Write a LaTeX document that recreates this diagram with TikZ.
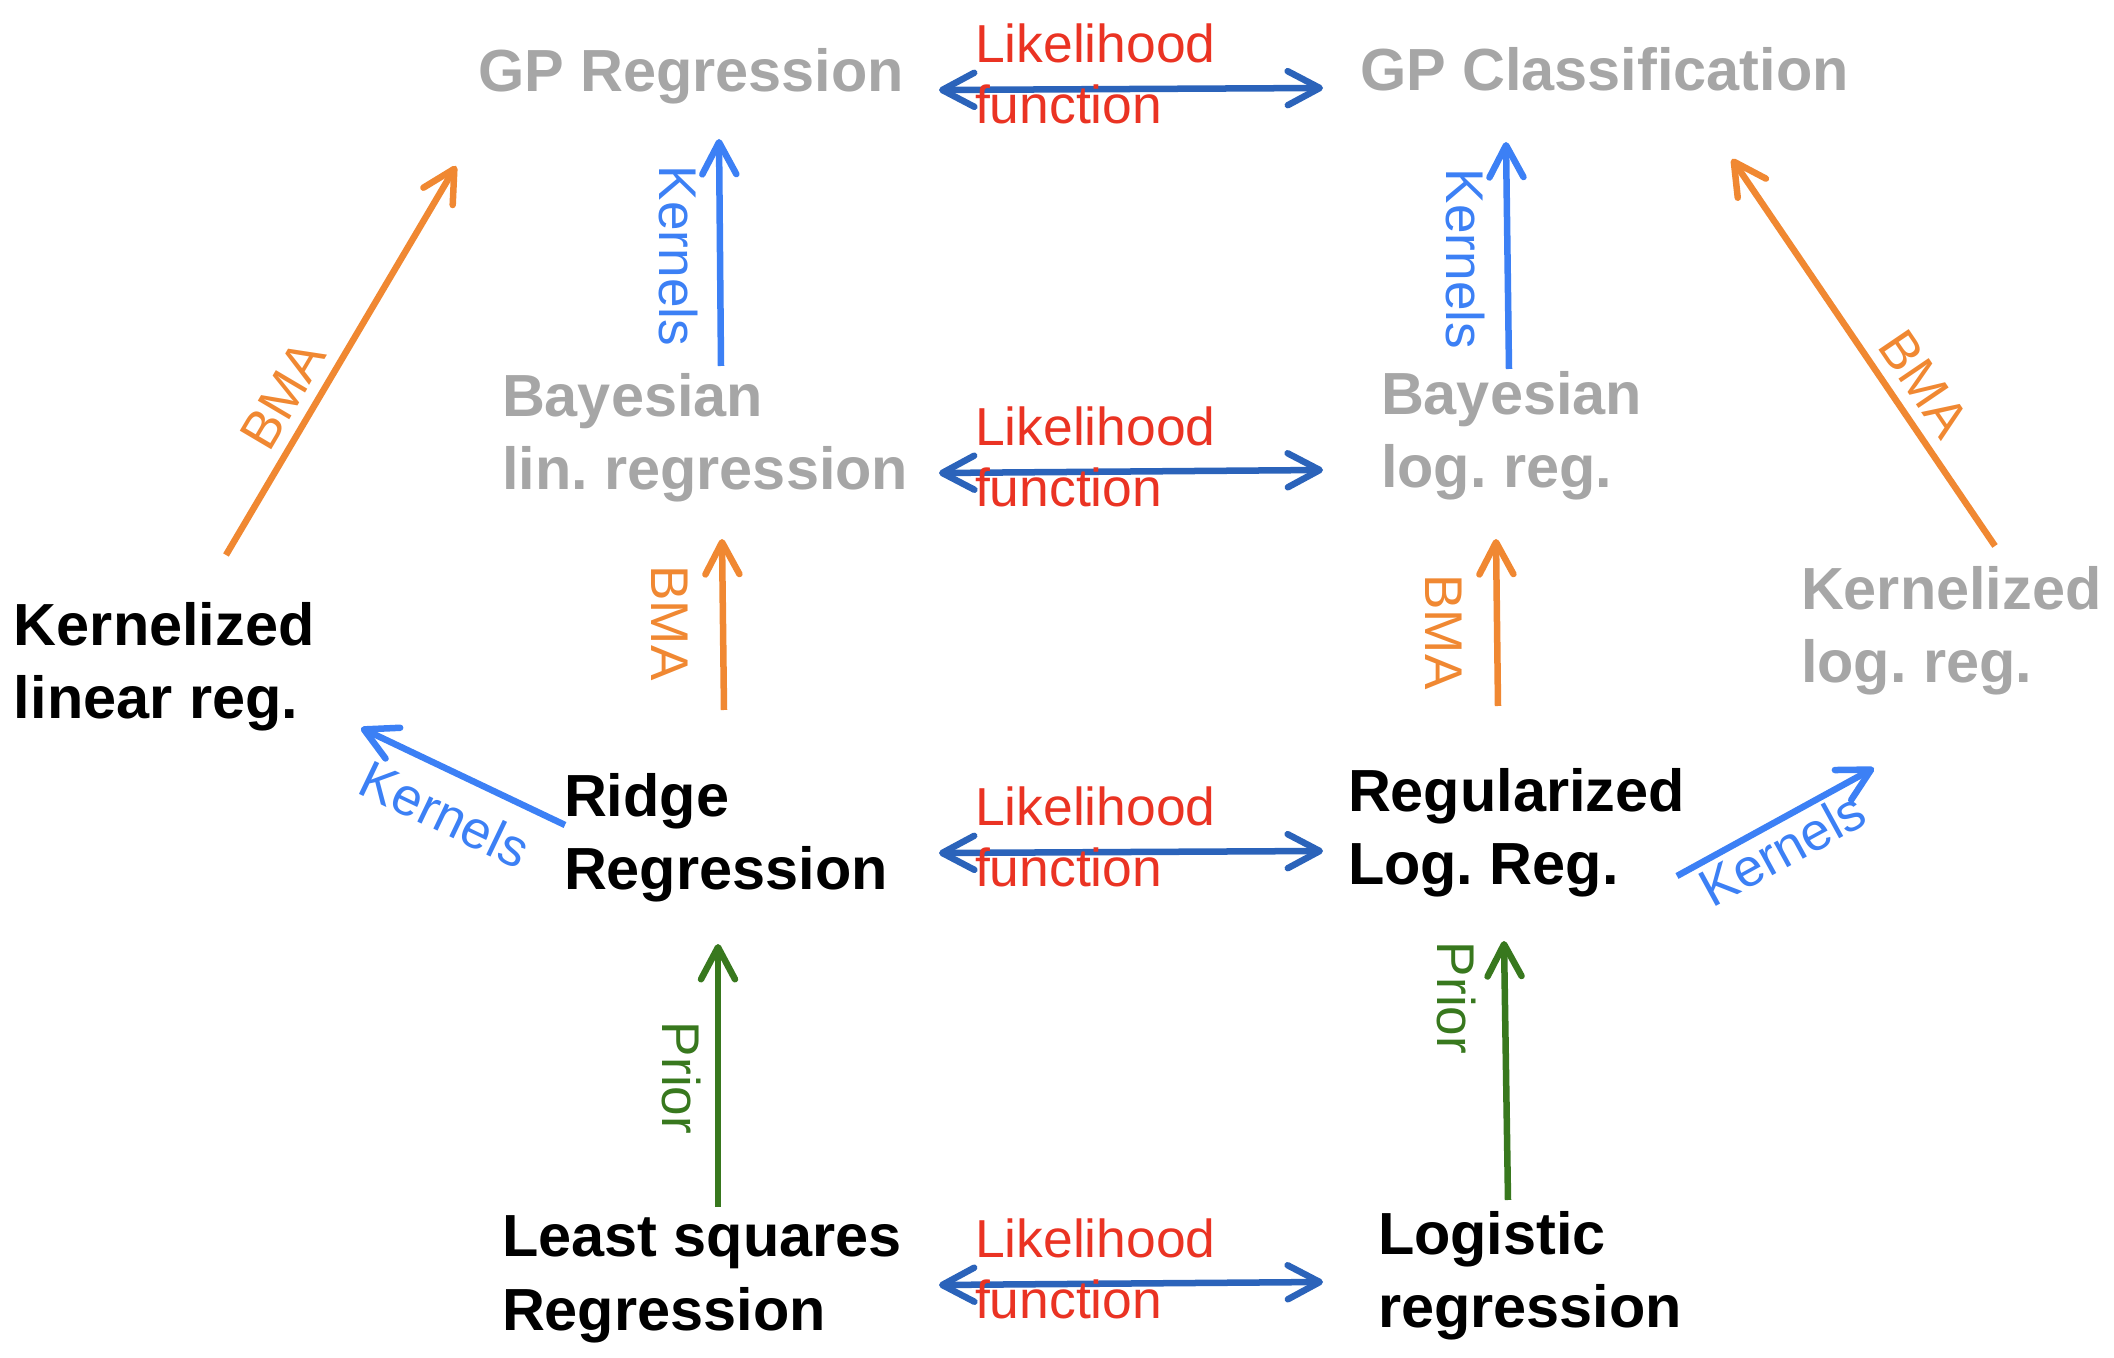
\documentclass[tikz,border=0pt]{standalone}
\usepackage{fontspec}
\setmainfont{Liberation Sans}
\usetikzlibrary{arrows.meta}
\definecolor{txtgray}{RGB}{166,166,166}
\definecolor{likred}{RGB}{234,51,35}
\definecolor{darkblue}{RGB}{43,99,186}
\definecolor{kerblue}{RGB}{60,128,245}
\definecolor{bmaorange}{RGB}{240,136,50}
\definecolor{priorgreen}{RGB}{56,120,30}
\frenchspacing
\begin{document}
\begin{tikzpicture}[x=0.01cm,y=-0.01cm,
  model/.style={inner sep=0pt, outer sep=0pt, anchor=north west, align=left,
    font=\frenchspacing\bfseries\fontsize{16.9}{20.8}\selectfont},
  single/.style={inner sep=0pt, outer sep=0pt, anchor=base west,
    font=\frenchspacing\bfseries\fontsize{16.9}{20.8}\selectfont},
  liklab/.style={inner sep=0pt, outer sep=0pt, anchor=north west, align=left,
    text=likred, font=\fontsize{15.2}{17.35}\selectfont},
  edgelab/.style={inner sep=0pt, outer sep=0pt, font=\fontsize{15.1}{17}\selectfont},
  conn/.style={line width=0.65mm, -{Straight Barb[length=3.2mm,width=3.4mm,round]}},
  likar/.style={line width=0.65mm, darkblue,
    {Straight Barb[length=3.2mm,width=3.4mm,round]}-{Straight Barb[length=3.2mm,width=3.4mm,round]}},
  kerar/.style={conn, kerblue},
  bmaar/.style={conn, bmaorange},
  priar/.style={conn, priorgreen}]
\useasboundingbox (0,0) rectangle (2114,1358);

% model nodes
\node[single, text=txtgray] (gpr) at (478,92) {GP Regression};
\node[single, text=txtgray] (gpc) at (1360,91) {GP Classification};
\node[model, text=txtgray] (blr) at (502,373) {Bayesian\\lin. regression};
\node[model, text=txtgray] (blog) at (1381,371) {Bayesian\\log. reg.};
\node[model] (klin) at (14,602) {Kernelized\\linear reg.};
\node[model, text=txtgray] (klog) at (1801,566) {Kernelized\\log. reg.};
\node[model] (ridge) at (564,773) {Ridge\\Regression};
\node[model] (rlog) at (1348,768) {Regularized\\Log. Reg.};
\node[model] (lsq) at (502,1216) {Least squares\\Regression};
\node[model] (logr) at (1378,1211) {Logistic\\regression};

% likelihood connectors
\draw[likar] ([shift={(461,-2)}]gpr.base west) -- ([shift={(-37,-3)}]gpc.base west);
\draw[likar] ([shift={(437,100)}]blr.north west) -- ([shift={(-58,99)}]blog.north west);
\draw[likar] ([shift={(375,80)}]ridge.north west) -- ([shift={(-25,83)}]rlog.north west);
\draw[likar] ([shift={(437,69)}]lsq.north west) -- ([shift={(-55,71)}]logr.north west);

% kernels
\draw[kerar] ([shift={(219,-7)}]blr.north west) -- ([shift={(241,47)}]gpr.base west);
\draw[kerar] ([shift={(128,-2)}]blog.north west) -- ([shift={(146,51)}]gpc.base west);
\draw[kerar] ([shift={(1,52)}]ridge.north west) -- ([shift={(347,126)}]klin.north west);
\draw[kerar] ([shift={(329,108)}]rlog.north west) -- ([shift={(73,202)}]klog.north west);

% BMA
\draw[bmaar] ([shift={(160,-63)}]ridge.north west) -- ([shift={(220,166)}]blr.north west);
\draw[bmaar] ([shift={(150,-62)}]rlog.north west) -- ([shift={(115,168)}]blog.north west);
\draw[bmaar] ([shift={(212,-47)}]klin.north west) -- ([shift={(-22,74)}]gpr.base west);
\draw[bmaar] ([shift={(194,-20)}]klog.north west) -- ([shift={(372,68)}]gpc.base west);

% prior
\draw[priar] ([shift={(216,-9)}]lsq.north west) -- ([shift={(154,171)}]ridge.north west);
\draw[priar] ([shift={(130,-11)}]logr.north west) -- ([shift={(156,173)}]rlog.north west);

% likelihood labels
\node[liklab] (lik1) at (975,24) {Likelihood\\function};
\node[liklab] (lik2) at (975,407) {Likelihood\\function};
\node[liklab] (lik3) at (975,787) {Likelihood\\function};
\node[liklab] (lik4) at (975,1219) {Likelihood\\function};

% edge labels
\node[edgelab, text=kerblue, rotate=-90] (kl1) at (678,256) {Kernels};
\node[edgelab, text=kerblue, rotate=-90] (kl2) at (1465,259) {Kernels};
\node[edgelab, text=kerblue, rotate=-25.6] (kl3) at (445,814) {Kernels};
\node[edgelab, text=kerblue, rotate=28.7] (kl4) at (1782,849) {Kernels};
\node[edgelab, text=bmaorange, rotate=-90] (bl1) at (670,623) {BMA};
\node[edgelab, text=bmaorange, rotate=-90] (bl2) at (1444,632) {BMA};
\node[edgelab, text=bmaorange, rotate=59.4] (bl3) at (283,395) {BMA};
\node[edgelab, text=bmaorange, rotate=-55.8] (bl4) at (1924,384) {BMA};
\node[edgelab, text=priorgreen, rotate=-90] (pl1) at (681,1078) {Prior};
\node[edgelab, text=priorgreen, rotate=-90] (pl2) at (1456,998) {Prior};
\end{tikzpicture}
\end{document}
